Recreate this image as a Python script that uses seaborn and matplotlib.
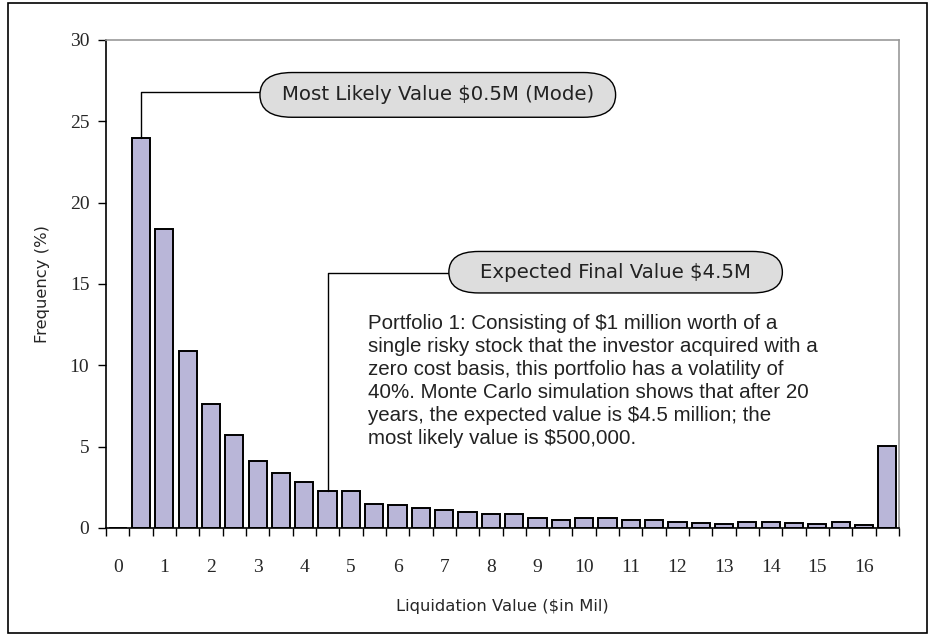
"""
Monte Carlo liquidation value histogram - Portfolio 1
"""

import matplotlib
matplotlib.use("Agg")
import matplotlib.pyplot as plt
from matplotlib.patches import Rectangle, FancyBboxPatch
import numpy as np
import seaborn as sns

# ===================== Data =====================
# liquidation value bins ($ Mil); last bin holds everything above 16
bins = ["0", "0.5", "1", "1.5", "2", "2.5", "3", "3.5", "4", "4.5",
        "5", "5.5", "6", "6.5", "7", "7.5", "8", "8.5", "9", "9.5",
        "10", "10.5", "11", "11.5", "12", "12.5", "13", "13.5", "14", "14.5",
        "15", "15.5", "16", ">16"]
freq = [0.0, 24.0, 18.4, 10.9, 7.6, 5.7, 4.1, 3.4, 2.85, 2.3,
        2.25, 1.45, 1.42, 1.25, 1.08, 0.97, 0.85, 0.88, 0.6, 0.52,
        0.63, 0.6, 0.52, 0.47, 0.37, 0.32, 0.22, 0.36, 0.35, 0.32,
        0.25, 0.35, 0.18, 5.05]
tick_labels = ["0", "1", "2", "3", "4", "5", "6", "7", "8", "9",
               "10", "11", "12", "13", "14", "15", "16"]

mode_text = "Most Likely Value $0.5M (Mode)"
mean_text = "Expected Final Value $4.5M"
note_text = ("Portfolio 1: Consisting of $1 million worth of a\n"
             "single risky stock that the investor acquired with a\n"
             "zero cost basis, this portfolio has a volatility of\n"
             "40%. Monte Carlo simulation shows that after 20\n"
             "years, the expected value is $4.5 million; the\n"
             "most likely value is $500,000.")

BAR_COLOR = "#b9b6d8"
SANS = ["DejaVu Sans"]
NARROW = ["Liberation Sans", "DejaVu Sans"]
SERIF = ["Liberation Serif", "DejaVu Serif"]
# =================================================

sns.set_style("white")
plt.rcParams["font.family"] = SANS

fig = plt.figure(figsize=(9.33, 6.38), dpi=100)
ax = fig.add_axes([106 / 933, 1 - 528 / 638, (899 - 106) / 933, (528 - 40) / 638])

sns.barplot(x=bins, y=freq, color=BAR_COLOR, saturation=1, width=0.78,
            edgecolor="black", linewidth=1.4, ax=ax)

ax.set_xlim(-0.5, len(bins) - 0.5)
ax.set_ylim(0, 30)
ax.set_yticks(range(0, 31, 5))
ax.set_yticklabels([str(v) for v in range(0, 31, 5)], family=SERIF, fontsize=14)

ax.set_xticks(range(0, 33, 2))
ax.set_xticklabels(tick_labels, family=SERIF, fontsize=14)
ax.set_xticks(np.arange(-0.5, len(bins), 1), minor=True)
ax.tick_params(axis="x", which="major", length=0, pad=22)
ax.tick_params(axis="x", which="minor", length=6, width=1, color="black", direction="out", bottom=True)
ax.tick_params(axis="y", length=6, width=1, color="black", direction="out", left=True, pad=6)

for side in ["left", "bottom"]:
    ax.spines[side].set_color("black")
    ax.spines[side].set_linewidth(1.2)
for side in ["top", "right"]:
    ax.spines[side].set_color("#999999")
    ax.spines[side].set_linewidth(1.2)

ax.set_ylabel("Frequency (%)", fontsize=11.8, labelpad=14)
ax.set_xlabel("Liquidation Value ($in Mil)", fontsize=11.8, labelpad=17)


def callout(x0, x1, y0, y1, label):
    # capsule shaped label drawn in data units
    ax.add_patch(FancyBboxPatch((x0, y0), x1 - x0, y1 - y0,
                                boxstyle=f"round,pad=0,rounding_size={(y1 - y0) / 2}",
                                fc="#dddddd", ec="black", lw=1, zorder=4))
    ax.text((x0 + x1) / 2, (y0 + y1) / 2, label, ha="center", va="center",
            fontsize=14.2, color="#222222", zorder=5)


# call-out for the mode
ax.plot([1, 1, 6.1], [24, 26.8, 26.8], color="black", lw=1)
callout(6.1, 21.35, 25.25, 28.0, mode_text)

# call-out for the expected value
ax.plot([9, 9, 14.2], [2.3, 15.65, 15.65], color="black", lw=1)
callout(14.2, 28.5, 14.45, 17.0, mean_text)

ax.text(10.73, 9.05, note_text, ha="left", va="center", fontsize=14.8, family=NARROW,
        linespacing=1.26, color="#222222")

# outer frame like the original exhibit
fig.patches.append(Rectangle((8 / 933, 1 - 633 / 638), (927 - 8) / 933, (633 - 3) / 638,
                             transform=fig.transFigure, fill=False, ec="black", lw=1.2))

fig.savefig("out.png", dpi=100)
